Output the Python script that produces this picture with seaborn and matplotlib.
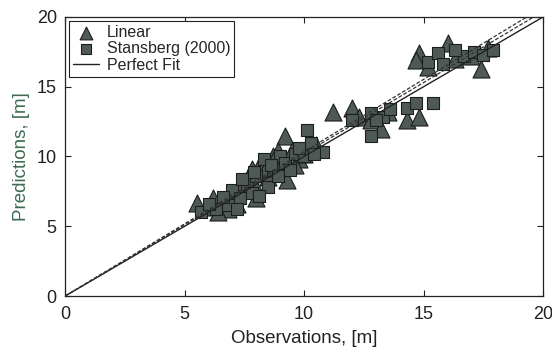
import matplotlib
matplotlib.use("Agg")
import matplotlib.pyplot as plt
import seaborn as sns
import pandas as pd
import numpy as np

lin_obs = [5.5, 6.0, 6.2, 6.6, 7.0, 7.2, 7.5, 7.7, 7.8, 8.0, 8.2, 8.5, 8.7, 9.0, 9.2, 9.3,
           9.5, 9.8, 10.2, 11.2, 12.0, 12.3, 12.8, 13.2, 13.5, 14.3, 14.8, 14.8, 14.7, 15.2,
           16.0, 16.3, 17.0, 17.4, 17.7, 6.8, 7.3, 7.9, 8.4, 8.9, 9.6, 10.0, 10.5, 6.4]
lin_pred = [6.7, 6.4, 7.0, 6.9, 7.4, 6.6, 7.8, 8.6, 9.1, 7.0, 9.6, 8.5, 10.0, 9.3, 11.5, 8.3,
            10.4, 9.8, 10.6, 13.2, 13.5, 12.8, 12.6, 12.0, 13.2, 12.6, 12.8, 17.4, 16.9, 16.4,
            18.1, 17.0, 17.2, 16.3, 17.8, 6.2, 7.9, 8.0, 9.2, 10.4, 9.4, 10.2, 10.8, 6.0]
sta_obs = [5.7, 6.3, 6.8, 7.0, 7.3, 7.6, 7.8, 8.0, 8.3, 8.5, 8.7, 9.0, 9.2, 9.6, 10.0, 10.1,
           10.3, 10.8, 12.0, 12.8, 12.8, 13.3, 13.6, 14.3, 14.7, 15.4, 15.2, 15.6, 15.8, 16.7,
           17.1, 17.5, 17.9, 6.0, 6.6, 7.2, 7.9, 8.1, 8.6, 8.9, 9.4, 9.8, 10.4, 7.4, 16.3, 13.0]
sta_pred = [6.0, 6.2, 6.5, 7.6, 7.0, 8.0, 7.4, 8.6, 9.8, 7.8, 9.0, 10.0, 9.5, 10.2, 10.0, 11.9,
            11.0, 10.3, 12.6, 13.1, 11.5, 12.8, 13.4, 13.5, 13.8, 13.8, 16.8, 17.4, 16.6, 17.2,
            17.5, 17.3, 17.6, 6.6, 7.1, 6.2, 8.9, 7.2, 9.4, 8.6, 9.0, 10.6, 10.2, 8.4, 17.6, 12.6]
fit_line = [0, 20]
lin_fit_slope = 1.035
sta_fit_slope = 1.02

sns.set_style("ticks")
plt.rcParams['font.family'] = ['Liberation Sans', 'DejaVu Sans']

fig = plt.figure(figsize=(5.52, 3.52), dpi=100)
ax = fig.add_axes([0.118, 0.159, 0.866, 0.793])

face = '#4f5a56'
edge = '#1a1e1c'

df_lin = pd.DataFrame({'obs': lin_obs, 'pred': lin_pred})
df_sta = pd.DataFrame({'obs': sta_obs, 'pred': sta_pred})

sns.scatterplot(data=df_lin, x='obs', y='pred', marker='^', s=150, color=face,
                edgecolor=edge, linewidth=0.8, ax=ax, label='Linear', zorder=3)
sns.scatterplot(data=df_sta, x='obs', y='pred', marker='s', s=85, color=face,
                edgecolor=edge, linewidth=0.8, ax=ax, label='Stansberg (2000)', zorder=3)

xs = np.array(fit_line, dtype=float)
sns.lineplot(x=xs, y=xs, color='#222222', linewidth=1.0, ax=ax, label='Perfect Fit', zorder=4)
ax.plot(xs, xs * lin_fit_slope, color='#333333', linewidth=0.9, linestyle=(0, (3, 1.5)), zorder=4)
ax.plot(xs, xs * sta_fit_slope, color='#333333', linewidth=0.9, linestyle=(0, (3, 1.5)), zorder=4)

ax.set_xlim(0, 20)
ax.set_ylim(0, 20)
ax.set_xticks([0, 5, 10, 15, 20])
ax.set_yticks([0, 5, 10, 15, 20])
ax.tick_params(direction='in', top=True, right=True, length=4, width=0.8,
               labelsize=13, colors='#222222', labelcolor='#222222')
ax.tick_params(axis='x', pad=7)
ax.tick_params(axis='y', pad=6)
for sp in ax.spines.values():
    sp.set_visible(True)
    sp.set_color('#222222')
    sp.set_linewidth(0.9)

ax.set_xlabel('Observations, [m]', fontsize=13.5, color='#222222', labelpad=5)
ax.set_ylabel('Predictions, [m]', fontsize=13.5, color='#3d6b52', labelpad=5)

leg = ax.legend(loc='upper left', fontsize=11.5, frameon=True, fancybox=False,
                borderpad=0.25, labelspacing=0.1, handlelength=1.6, handletextpad=0.5,
                borderaxespad=0.25, markerscale=0.75)
leg.get_frame().set_edgecolor('#222222')
leg.get_frame().set_linewidth(0.8)
leg.get_frame().set_alpha(1)

fig.savefig('out.png', dpi=100)
